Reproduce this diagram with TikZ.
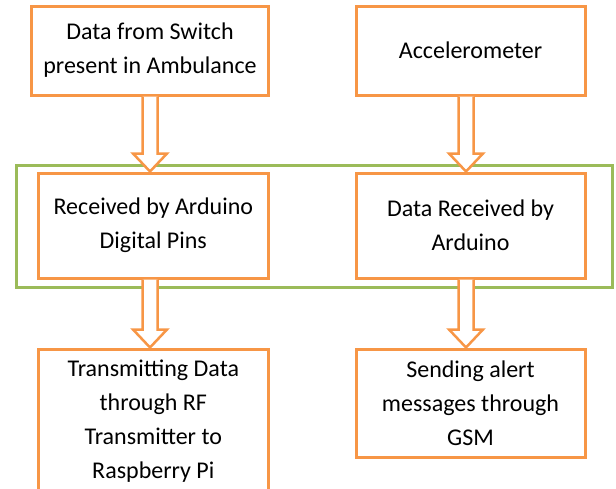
\documentclass[tikz,border=0pt]{standalone}
\usepackage{fontspec}
\setmainfont{Carlito}
\usetikzlibrary{calc}

\definecolor{boxorange}{HTML}{F79646}
\definecolor{boxgreen}{HTML}{9BBB59}

\tikzset{
    box/.style={draw=boxorange, line width=3pt, align=center, inner sep=0pt,
        font=\fontsize{24}{34}\selectfont},
    groupbox/.style={draw=boxgreen, line width=3pt},
    pfeil/.style={draw=boxorange, line width=2.5pt, fill=white, line join=miter}
}

% Blockpfeil von Knoten #1 nach Knoten #2, seitlich verschoben um #3
\newcommand{\blockpfeil}[3]{%
    \draw[pfeil] let \p1=($(#1.south)+(#3,0)$), \p2=(#2.north) in
        (\x1-7.5pt,\y1) -- (\x1-7.5pt,\y2+18pt) -- (\x1-17pt,\y2+18pt)
        -- (\x1,\y2) -- (\x1+17pt,\y2+18pt) -- (\x1+7.5pt,\y2+18pt)
        -- (\x1+7.5pt,\y1);
}

\begin{document}
\begin{tikzpicture}[x=1pt, y=-1pt]
        \useasboundingbox (0,0) rectangle (616,488);

        % zeichne Gruppe
        \draw[groupbox] (16.7,165) rectangle (612.3,287.7);

        % zeichne Kästen
        \node[box, minimum width=237pt, minimum height=89pt] (switch) at (150,50.5)
            {Data from Switch\\present in Ambulance};
        \node[box, minimum width=229pt, minimum height=89pt] (accel) at (470.5,50.5)
            {Accelerometer};
        \node[box, minimum width=229.4pt, minimum height=105pt] (pins) at (153.3,225.5)
            {Received by Arduino\\Digital Pins};
        \node[box, minimum width=229pt, minimum height=105pt] (arduino) at (470.5,225.5)
            {Data Received by\\Arduino};
        \node[box, minimum width=229.4pt, minimum height=144pt] (rf) at (153.3,421)
            {Transmitting Data\\through RF\\Transmitter to\\Raspberry Pi};
        \node[box, minimum width=229pt, minimum height=108pt] (gsm) at (470.5,403)
            {Sending alert\\messages through\\GSM};

        % zeichne Pfeile
        \blockpfeil{switch}{pins}{0pt}
        \blockpfeil{accel}{arduino}{-4.5pt}
        \blockpfeil{pins}{rf}{-3.3pt}
        \blockpfeil{arduino}{gsm}{-4.5pt}
    \end{tikzpicture}
\end{document}
